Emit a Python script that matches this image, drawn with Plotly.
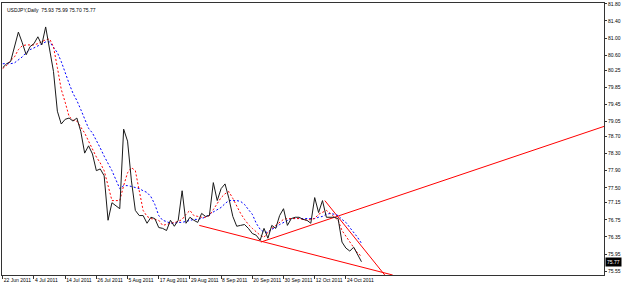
import plotly.graph_objects as go
import pandas as pd

# ---- data (USDJPY daily, 22 Jun 2011 .. 28 Oct 2011) ----
dates = pd.bdate_range("2011-06-22", "2011-10-28")
close = [80.31, 80.40, 80.45, 80.80, 81.14, 80.89, 80.61, 80.80, 80.87, 81.03,
         80.84, 81.26, 80.73, 80.22, 79.29, 78.99, 79.10, 79.13, 79.06, 79.13,
         78.82, 78.31, 78.48, 78.29, 77.90, 77.94, 77.78, 76.74, 77.15, 77.08,
         77.01, 78.87, 78.59, 77.66, 76.97, 76.85, 76.85, 76.67, 76.81, 76.78,
         76.57, 76.55, 76.50, 76.74, 76.60, 76.74, 77.43, 76.67, 76.81, 76.74,
         76.69, 76.90, 76.83, 76.85, 77.62, 77.20, 77.48, 77.59, 77.25, 76.83,
         76.60, 76.62, 76.64, 76.55, 76.43, 76.39, 76.27, 76.55, 76.32, 76.62,
         76.55, 76.85, 77.01, 76.62, 76.78, 76.81, 76.81, 76.76, 76.74, 76.67,
         77.27, 76.92, 77.20, 76.81, 76.81, 76.81, 76.78, 76.23, 76.09, 76.02,
         76.11, 75.95, 75.77]
ma_red = [80.29, 80.36, 80.47, 80.56, 80.73, 80.82, 80.84, 80.84, 80.84, 80.87,
          80.91, 80.96, 80.98, 80.80, 80.31, 79.80, 79.50, 79.17, 79.08, 79.06,
          78.92, 78.78, 78.59, 78.41, 78.22, 78.08, 77.90, 77.55, 77.20, 77.20,
          77.20, 77.55, 77.85, 77.97, 77.90, 77.43, 76.97, 76.83, 76.78, 76.76,
          76.74, 76.62, 76.64, 76.67, 76.69, 76.71, 76.76, 76.88, 76.97, 76.85,
          76.83, 76.81, 76.81, 76.85, 76.99, 77.13, 77.27, 77.36, 77.41, 77.25,
          77.06, 76.90, 76.76, 76.64, 76.55, 76.46, 76.39, 76.34, 76.46, 76.55,
          76.62, 76.71, 76.76, 76.78, 76.78, 76.78, 76.78, 76.76, 76.74, 76.76,
          76.78, 76.88, 76.92, 76.97, 76.90, 76.83, 76.74, 76.50, 76.36, 76.23,
          76.09, 75.97, 75.90]
ma_blue = [80.40, 80.40, 80.40, 80.42, 80.49, 80.56, 80.66, 80.73, 80.77, 80.82,
           80.87, 80.91, 80.91, 80.77, 80.66, 80.45, 80.17, 79.94, 79.71, 79.54,
           79.33, 79.13, 78.89, 78.78, 78.62, 78.43, 78.24, 78.08, 77.90, 77.69,
           77.48, 77.55, 77.55, 77.53, 77.50, 77.48, 77.43, 77.39, 77.29, 77.11,
           76.85, 76.74, 76.71, 76.67, 76.67, 76.69, 76.69, 76.71, 76.74, 76.76,
           76.76, 76.78, 76.81, 76.88, 76.94, 76.99, 77.04, 77.13, 77.20, 77.20,
           77.20, 77.18, 77.11, 76.99, 76.88, 76.67, 76.53, 76.46, 76.46, 76.53,
           76.57, 76.64, 76.69, 76.74, 76.78, 76.78, 76.78, 76.78, 76.78, 76.78,
           76.78, 76.81, 76.83, 76.88, 76.90, 76.88, 76.85, 76.76, 76.69, 76.57,
           76.46, 76.34, 76.20]

# trend lines (bar index, price) anchors
trend_a_x = [50.4, 100.0]
trend_a_y = [76.62, 75.46]
trend_b_x = [66.2, 170.0]
trend_b_y = [76.23, 79.42]
trend_c_x = [82.6, 100.0]
trend_c_y = [77.20, 75.23]

tick_bars = [0, 8, 16, 24, 32, 40, 48, 56, 64, 72, 80, 88]
tick_labels = [f"{d.day} {d.strftime('%b %Y')}" for d in dates[tick_bars]]
price_ticks = [81.80, 81.40, 81.00, 80.60, 80.25, 79.85, 79.45, 79.05, 78.70,
               78.30, 77.90, 77.50, 77.15, 76.75, 76.35, 75.95, 75.55]
header = "USDJPY,Daily  75.93 75.99 75.70 75.77"
last_price = 75.77

bars = list(range(len(close)))
FONT = "Liberation Sans"
FS = 5

fig = go.Figure()
for tx, ty in [(trend_a_x, trend_a_y), (trend_b_x, trend_b_y), (trend_c_x, trend_c_y)]:
    fig.add_trace(go.Scatter(x=tx, y=ty, mode="lines",
                             line=dict(color="#ff0000", width=1), hoverinfo="skip"))
fig.add_trace(go.Scatter(x=bars, y=ma_blue, mode="lines",
                         line=dict(color="#0000ff", width=1, dash="2px,2px")))
fig.add_trace(go.Scatter(x=bars, y=ma_red, mode="lines",
                         line=dict(color="#ff0000", width=1, dash="2px,2px")))
fig.add_trace(go.Scatter(x=bars, y=close, mode="lines",
                         line=dict(color="#1a1a1a", width=1)))

fig.update_layout(
    width=625, height=285,
    margin=dict(l=1, r=21, t=1, b=10),
    paper_bgcolor="white", plot_bgcolor="white",
    showlegend=False,
    font=dict(family=FONT, size=FS, color="black"),
    xaxis=dict(range=[-0.2, 154.2], showgrid=False, zeroline=False,
               showline=True, linecolor="#333333", linewidth=1, mirror=True,
               tickmode="array", tickvals=tick_bars, ticktext=tick_labels,
               ticks="outside", ticklen=3, tickcolor="#333333",
               ticklabelposition="outside right", tickangle=0,
               ticklabeloverflow="allow",
               tickfont=dict(size=FS, family=FONT)),
    yaxis=dict(range=[75.46, 81.82], side="right", showgrid=False, zeroline=False,
               showline=True, linecolor="#333333", linewidth=1, mirror=True,
               tickmode="array", tickvals=price_ticks,
               ticktext=[f"{v:.2f}" for v in price_ticks],
               ticks="outside", ticklen=2, tickcolor="#333333",
               ticklabeloverflow="allow",
               tickfont=dict(size=FS, family=FONT)),
    annotations=[
        dict(text=header, x=0, y=1, xref="paper", yref="paper",
             xanchor="left", yanchor="top", xshift=3, yshift=-2,
             showarrow=False, font=dict(size=FS, family=FONT, color="black")),
        dict(text=f"{last_price:.2f}", x=1, y=last_price, xref="paper", yref="y",
             xanchor="left", yanchor="middle", xshift=1, showarrow=False,
             bgcolor="black", borderpad=1,
             font=dict(size=FS, family=FONT, color="white")),
    ],
)

fig.write_html("out.html")
